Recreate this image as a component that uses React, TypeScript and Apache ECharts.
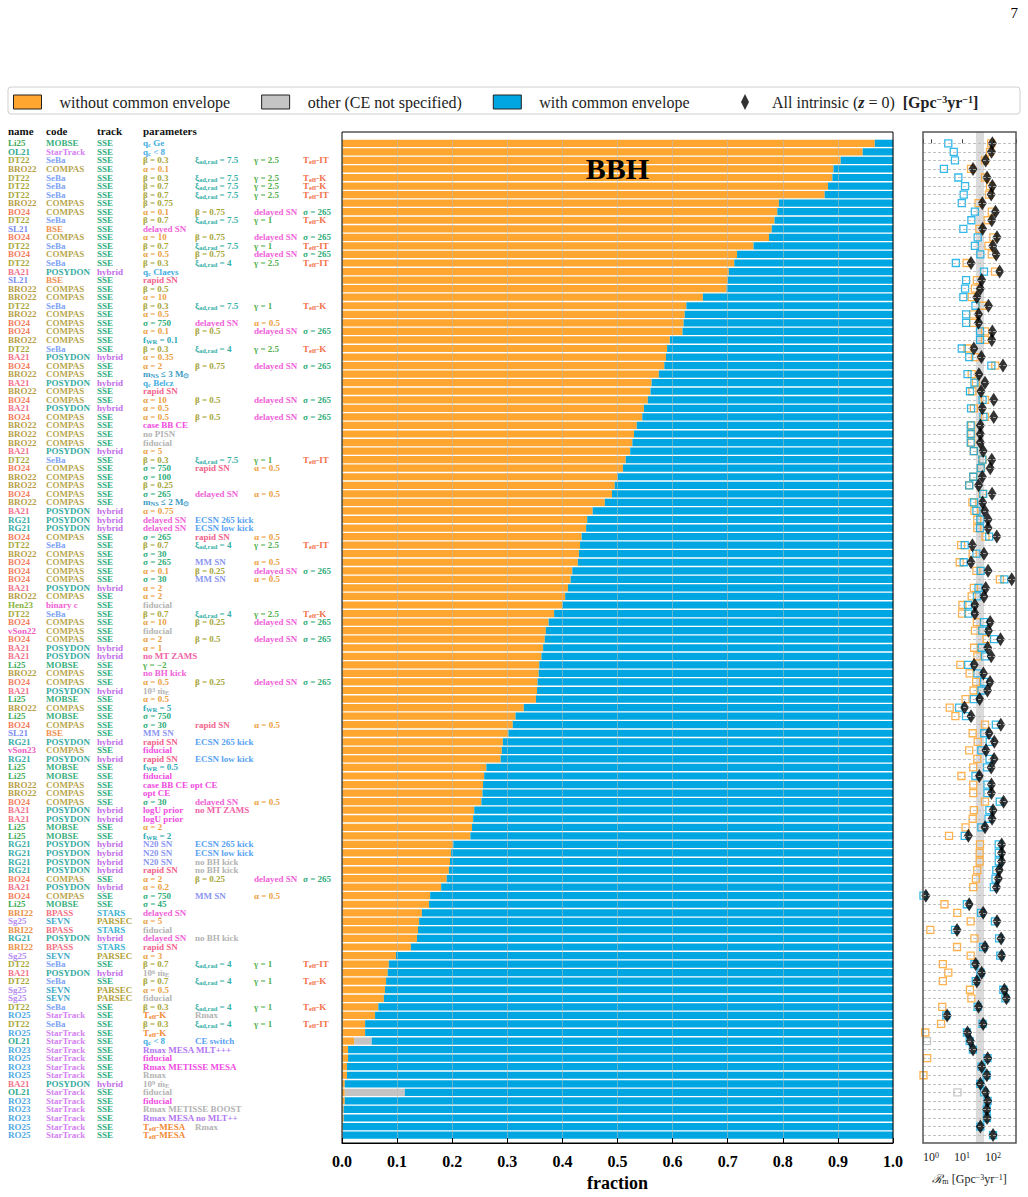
import React, { useEffect, useRef } from 'react';
import * as echarts from 'echarts';

// ---------------- data ----------------
const names = [
  'Li25','OL21','DT22','BRO22','DT22','DT22','DT22','BRO22','BO24','DT22',
  'SL21','BO24','DT22','BO24','DT22','BA21','SL21','BRO22','BRO22','DT22',
  'BRO22','BO24','BO24','BRO22','DT22','BA21','BO24','BRO22','BA21','BRO22',
  'BO24','BA21','BO24','BRO22','BRO22','BRO22','BA21','DT22','BO24','BRO22',
  'BRO22','BO24','BRO22','BA21','RG21','RG21','BO24','DT22','BRO22','BO24',
  'BO24','BO24','BA21','BRO22','Hen23','DT22','BO24','vSon22','BO24','BA21',
  'BA21','Li25','BRO22','BO24','BA21','Li25','BRO22','Li25','BO24','SL21',
  'RG21','vSon23','RG21','Li25','Li25','BRO22','BRO22','BO24','BA21','BA21',
  'Li25','Li25','RG21','RG21','RG21','RG21','BO24','BA21','BO24','Li25',
  'BRI22','Sg25','BRI22','RG21','BRI22','Sg25','DT22','BA21','DT22','Sg25',
  'Sg25','DT22','RO25','DT22','RO25','OL21','RO23','RO25','RO23','RO25',
  'BA21','OL21','RO23','RO23','RO23','RO25','RO25'
];

const studyCode: Record<string, string> = {
  Li25: 'MOBSE', OL21: 'StarTrack', DT22: 'SeBa', BRO22: 'COMPAS', BO24: 'COMPAS',
  SL21: 'BSE', BA21: 'POSYDON', RG21: 'POSYDON', Hen23: 'binary c', vSon22: 'COMPAS',
  vSon23: 'COMPAS', BRI22: 'BPASS', Sg25: 'SEVN', RO23: 'StarTrack', RO25: 'StarTrack'
};
const studyTrack: Record<string, string> = {
  Li25: 'SSE', OL21: 'SSE', DT22: 'SSE', BRO22: 'SSE', BO24: 'SSE', SL21: 'SSE',
  BA21: 'hybrid', RG21: 'hybrid', Hen23: 'SSE', vSon22: 'SSE', vSon23: 'SSE',
  BRI22: 'STARS', Sg25: 'PARSEC', RO23: 'SSE', RO25: 'SSE'
};

// parameter slots separated by "|", each "colorKey:text"
const params = [
  'q:q_{c} Ge',
  'q:q_{c} < 8',
  'b:β = 0.3|x:ξ_{ad,rad} = 7.5|g:γ = 2.5|t:T_{eff}-IT',
  'a:α = 0.1',
  'b:β = 0.3|x:ξ_{ad,rad} = 7.5|g:γ = 2.5|t:T_{eff}-K',
  'b:β = 0.7|x:ξ_{ad,rad} = 7.5|g:γ = 2.5|t:T_{eff}-K',
  'b:β = 0.7|x:ξ_{ad,rad} = 7.5|g:γ = 2.5|t:T_{eff}-IT',
  'b:β = 0.75',
  'a:α = 0.1|b:β = 0.75|d:delayed SN|s:σ = 265',
  'b:β = 0.7|x:ξ_{ad,rad} = 7.5|g:γ = 1|t:T_{eff}-K',
  'd:delayed SN',
  'a:α = 10|b:β = 0.75|d:delayed SN|s:σ = 265',
  'b:β = 0.7|x:ξ_{ad,rad} = 7.5|g:γ = 1|t:T_{eff}-IT',
  'a:α = 0.5|b:β = 0.75|d:delayed SN|s:σ = 265',
  'b:β = 0.3|x:ξ_{ad,rad} = 4|g:γ = 2.5|t:T_{eff}-IT',
  'q:q_{c} Claeys',
  'r:rapid SN',
  'b:β = 0.5',
  'a:α = 10',
  'b:β = 0.3|x:ξ_{ad,rad} = 7.5|g:γ = 1|t:T_{eff}-K',
  'a:α = 0.5',
  's:σ = 750|d:delayed SN|a:α = 0.5',
  'a:α = 0.1|b:β = 0.5|d:delayed SN|s:σ = 265',
  'f:f_{WR} = 0.1',
  'b:β = 0.3|x:ξ_{ad,rad} = 4|g:γ = 2.5|t:T_{eff}-K',
  'a:α = 0.35',
  'a:α = 2|b:β = 0.75|d:delayed SN|s:σ = 265',
  'n:m_{NS} ≤ 3 M_{⊙}',
  'q:q_{c} Belcz',
  'r:rapid SN',
  'a:α = 10|b:β = 0.5|d:delayed SN|s:σ = 265',
  'a:α = 0.5',
  'a:α = 0.5|b:β = 0.5|d:delayed SN|s:σ = 265',
  'c:case BB CE',
  'z:no PISN',
  'z:fiducial',
  'a:α = 5',
  'b:β = 0.3|x:ξ_{ad,rad} = 7.5|g:γ = 1|t:T_{eff}-IT',
  's:σ = 750|r:rapid SN|a:α = 0.5',
  's:σ = 100',
  'b:β = 0.25',
  's:σ = 265|d:delayed SN|a:α = 0.5',
  'n:m_{NS} ≤ 2 M_{⊙}',
  'a:α = 0.75',
  'd:delayed SN|e:ECSN 265 kick',
  'd:delayed SN|e:ECSN low kick',
  's:σ = 265|r:rapid SN|a:α = 0.5',
  'b:β = 0.7|x:ξ_{ad,rad} = 4|g:γ = 2.5|t:T_{eff}-IT',
  's:σ = 30',
  's:σ = 265|m:MM SN|a:α = 0.5',
  'a:α = 0.1|b:β = 0.25|d:delayed SN|s:σ = 265',
  's:σ = 30|m:MM SN|a:α = 0.5',
  'a:α = 2',
  'a:α = 2',
  'z:fiducial',
  'b:β = 0.7|x:ξ_{ad,rad} = 4|g:γ = 2.5|t:T_{eff}-K',
  'a:α = 10|b:β = 0.25|d:delayed SN|s:σ = 265',
  'z:fiducial',
  'a:α = 2|b:β = 0.5|d:delayed SN|s:σ = 265',
  'a:α = 1',
  'p:no MT ZAMS',
  'g:γ = −2',
  'd:no BH kick',
  'a:α = 0.5|b:β = 0.25|d:delayed SN|s:σ = 265',
  'z:10^{3} ṁ_{E}',
  'a:α = 0.5',
  'f:f_{WR} = 5',
  's:σ = 750',
  's:σ = 30|r:rapid SN|a:α = 0.5',
  'm:MM SN',
  'r:rapid SN|e:ECSN 265 kick',
  'c:fiducial',
  'r:rapid SN|e:ECSN low kick',
  'f:f_{WR} = 0.5',
  'c:fiducial',
  'c:case BB CE opt CE',
  'c:opt CE',
  's:σ = 30|d:delayed SN|a:α = 0.5',
  'c:logU prior|p:no MT ZAMS',
  'c:logU prior',
  'a:α = 2',
  'f:f_{WR} = 2',
  'm:N20 SN|e:ECSN 265 kick',
  'm:N20 SN|e:ECSN low kick',
  'm:N20 SN|z:no BH kick',
  'r:rapid SN|z:no BH kick',
  'a:α = 2|b:β = 0.25|d:delayed SN|s:σ = 265',
  'a:α = 0.2',
  's:σ = 750|m:MM SN|a:α = 0.5',
  's:σ = 45',
  'd:delayed SN',
  'a:α = 5',
  'z:fiducial',
  'd:delayed SN|z:no BH kick',
  'r:rapid SN',
  'a:α = 3',
  'b:β = 0.7|x:ξ_{ad,rad} = 4|g:γ = 1|t:T_{eff}-IT',
  'z:10^{6} ṁ_{E}',
  'b:β = 0.7|x:ξ_{ad,rad} = 4|g:γ = 1|t:T_{eff}-K',
  'a:α = 0.5',
  'z:fiducial',
  'b:β = 0.3|x:ξ_{ad,rad} = 4|g:γ = 1|t:T_{eff}-K',
  'o:T_{eff}-K|z:Rmax',
  'b:β = 0.3|x:ξ_{ad,rad} = 4|g:γ = 1|t:T_{eff}-IT',
  'o:T_{eff}-K',
  'q:q_{c} < 8|e:CE switch',
  'v:Rmax MESA MLT+++',
  'c:fiducial',
  'c:Rmax METISSE MESA',
  'z:Rmax',
  'z:10^{9} ṁ_{E}',
  'z:fiducial',
  'c:fiducial',
  'z:Rmax METISSE BOOST',
  'v:Rmax MESA no MLT++',
  'o:T_{eff}-MESA|z:Rmax',
  'o:T_{eff}-MESA'
];

// fraction of merging BBHs without common envelope
const fracNoCE = [
  0.967, 0.945, 0.905, 0.892, 0.890, 0.882, 0.876, 0.793, 0.790, 0.785,
  0.780, 0.775, 0.747, 0.717, 0.712, 0.702, 0.700, 0.698, 0.655, 0.625,
  0.622, 0.620, 0.618, 0.595, 0.590, 0.588, 0.585, 0.575, 0.562, 0.560,
  0.555, 0.548, 0.545, 0.535, 0.530, 0.527, 0.523, 0.515, 0.510, 0.500,
  0.495, 0.490, 0.477, 0.455, 0.445, 0.443, 0.435, 0.432, 0.430, 0.428,
  0.418, 0.415, 0.410, 0.405, 0.400, 0.385, 0.375, 0.370, 0.368, 0.365,
  0.362, 0.358, 0.357, 0.355, 0.354, 0.352, 0.330, 0.315, 0.310, 0.302,
  0.292, 0.290, 0.288, 0.262, 0.258, 0.256, 0.255, 0.253, 0.240, 0.238,
  0.236, 0.233, 0.202, 0.198, 0.196, 0.194, 0.190, 0.180, 0.160, 0.158,
  0.145, 0.140, 0.138, 0.136, 0.125, 0.098, 0.085, 0.083, 0.080, 0.078,
  0.076, 0.066, 0.060, 0.042, 0.042, 0.022, 0.011, 0.011, 0.009, 0.009,
  0.005, 0.005, 0.005, 0.003, 0.003, 0.001, 0.001
];
// rows with a share of "other (CE not specified)"
const otherRows = [105, 111];
const otherFrac = [0.032, 0.109];

// merger rates [Gpc^-3 yr^-1]
const rateNoCE = [
  87, 80, 55, 19.5, 55, 80, 74, 34, 91, 67,
  36, 102, 71, 91, 14, 116, 30, 26, 20.5, 46,
  23, 23, 55, 55, 15, 26, 118, 20.5, 28, 21.5,
  55, 24, 55, 20, 20, 20, 24, 46, 41, 23,
  17, 46, 21.5, 25, 31, 31, 57, 9.3, 22, 8.4,
  29, 166, 24, 20.5, 10.3, 10, 30, 26, 62, 24.5,
  31, 8.8, 17.5, 28.5, 23.5, 13, 4.0, 6.1, 55, 22,
  32, 17, 31, 23, 9.5, 23, 23, 55, 24, 22,
  13, 3.8, 38, 37, 37, 31, 28, 23, 0.11, 2.7,
  7, 19, 0.95, 25, 6.9, 19, 2.4, 3.6, 2.4, 18,
  20, 2.3, 0.2, 2.1, 0.65, 0.4, 0.25, 0.75, 0.39, 0.57,
  0.2, 0.29, 0.33, 0.2, 0.2, 0.04, 0.1
];
const rateCE = [
  3.6, 5.4, 5.9, 2.6, 7.6, 12.5, 11.3, 9.8, 26, 20,
  11, 32, 26, 39, 6.3, 51, 13.5, 12.5, 11, 27,
  13.5, 13.5, 38, 38, 9.8, 17, 88, 15, 25, 18,
  46, 19.5, 49, 19, 19, 19, 24, 45, 40, 23,
  17, 48, 24.5, 29, 39, 38, 75, 12.2, 29, 11.3,
  40, 232, 34, 30, 15.5, 16, 51, 45, 108, 43,
  55, 15.7, 31.5, 51.5, 42.5, 24, 8, 13.4, 123, 52,
  78, 42, 77, 64, 27, 66, 66, 164, 76, 71,
  42, 12.2, 152, 153, 153, 127, 120, 106, 0.57, 14.3,
  41, 115, 5.95, 157, 48, 171, 25, 39.4, 27.6, 214,
  250, 31.7, 3.1, 45.9, 14.35, 17.6, 22.35, 66, 42.6, 62,
  38.8, 51.3, 66.6, 62.8, 63.8, 39, 99.9
];
const rateAll = [
  95, 89, 58, 22.6, 64, 95, 87, 45, 120, 91,
  46, 134, 98, 126, 19.5, 163, 43, 39, 30, 71,
  34, 34, 95, 91, 24, 42, 209, 35, 55, 41,
  105, 45, 105, 39, 39, 39, 48, 91, 81, 45,
  34, 93, 46, 54, 69, 69, 132, 21.5, 51, 19.5,
  69, 400, 58, 51, 26, 26, 81, 71, 174, 67,
  87, 24.5, 49, 80, 66, 37, 12, 19.5, 178, 74,
  110, 59, 108, 87, 36, 89, 89, 219, 100, 93,
  55, 16, 190, 190, 190, 158, 148, 129, 0.68, 17,
  48, 134, 6.9, 182, 55, 190, 27.5, 43, 30, 232,
  270, 34, 3.3, 48, 15, 18.6, 22.6, 67, 43, 63,
  39, 58, 67, 63, 64, 39, 100
];
const rateOther = [0.74, 7.1];
const obsBand = [28, 51];

const seriesNames = ['without common envelope', 'other (CE not specified)', 'with common envelope', 'All intrinsic'];
const headerLabels = ['name', 'code', 'track', 'parameters'];

// ---------------- styles ----------------
const FONT = 'Liberation Serif';
const ORANGE = '#FFA631';
const GREY = '#C4C4C4';
const BLUE = '#00A6E2';

const nameColor: Record<string, string> = {
  Li25: '#3FAA5A', OL21: '#2FA98C', DT22: '#A8A73B', BRO22: '#B8A046', BO24: '#F27D5C',
  SL21: '#7C8DF2', BA21: '#F2718B', RG21: '#38ACA6', Hen23: '#88B33C', vSon22: '#F060C4',
  vSon23: '#F060C4', BRI22: '#E9924B', Sg25: '#B48BF2', RO23: '#4EA9E3', RO25: '#4EA9E3'
};
const codeColor: Record<string, string> = {
  MOBSE: '#3AAF7E', StarTrack: '#D47FF2', SeBa: '#7DA3F5', COMPAS: '#B8A650', BSE: '#EE9150',
  POSYDON: '#36ABA0', 'binary c': '#F25FD5', BPASS: '#F27186', SEVN: '#3FA9C9'
};
const trackColor: Record<string, string> = {
  SSE: '#2FAE83', hybrid: '#C26DE8', STARS: '#3DB2D2', PARSEC: '#B3A138'
};
const paramColor: Record<string, string> = {
  q: '#45AEE2', b: '#A7A63A', a: '#EBA042', x: '#35AFA8', g: '#52B04E', t: '#F2714A',
  d: '#F062D8', r: '#F2648C', s: '#2FAD78', m: '#8A96F2', z: '#B3B3B3', f: '#2FA9B5',
  n: '#3A9BC4', c: '#F04BDF', e: '#58A2F2', p: '#F062A6', v: '#B276F2', o: '#F28A34'
};

const colorList: string[] = [];
function ck(c: string): string {
  let j = colorList.indexOf(c);
  if (j < 0) { colorList.push(c); j = colorList.length - 1; }
  return 'c' + j;
}
function toRich(text: string, key: string): string {
  let out = '';
  let buf = '';
  let i = 0;
  while (i < text.length) {
    const ch = text[i];
    if ((ch === '_' || ch === '^') && text[i + 1] === '{') {
      const end = text.indexOf('}', i);
      if (buf) { out += `{${key}|${buf}}`; buf = ''; }
      out += `{${key}${ch === '_' ? 's' : 'p'}|${text.slice(i + 2, end)}}`;
      i = end + 1;
    } else { buf += ch; i++; }
  }
  if (buf) out += `{${key}|${buf}}`;
  return out;
}

const nameLabels = names.map((n) => toRich(n, ck(nameColor[n])));
const codeLabels = names.map((n) => toRich(studyCode[n], ck(codeColor[studyCode[n]])));
const trackLabels = names.map((n) => toRich(studyTrack[n], ck(trackColor[studyTrack[n]])));
const paramLabels: string[][] = [0, 1, 2, 3].map((slot) =>
  params.map((p) => {
    const piece = p.split('|')[slot];
    if (!piece) return '';
    const k = piece.slice(0, 1);
    return toRich(piece.slice(2), ck(paramColor[k]));
  })
);

const FS = 9;
const rich: Record<string, any> = {};
colorList.forEach((c, j) => {
  rich['c' + j] = { color: c, fontFamily: FONT, fontWeight: 'bold', fontSize: FS, lineHeight: 10 };
  rich['c' + j + 's'] = { color: c, fontFamily: FONT, fontWeight: 'bold', fontSize: 6.5, lineHeight: 6, verticalAlign: 'bottom' };
  rich['c' + j + 'p'] = { color: c, fontFamily: FONT, fontWeight: 'bold', fontSize: 6.5, lineHeight: 6, verticalAlign: 'top' };
});

// layout
const GRID_LEFT = 342;
const GRID_RIGHT_X = 893;
const PANEL_TOP = 132;
const PANEL_BOTTOM = 1143;
const ROW_H = 8.55;
const FIRST_ROW_Y = 143.3;
const R_LEFT = 923;
const R_RIGHT = 1016;
const colX = [8, 46, 97, 143, 195, 254, 303];

export default function App() {
  const ref = useRef<HTMLDivElement>(null);
  useEffect(() => {
    if (!ref.current) return;
    const chart = echarts.init(ref.current, undefined, { renderer: 'svg' });
    const N = names.length;
    const cats = names.map((_, i) => String(i));
    const other = names.map(() => 0);
    otherRows.forEach((r, k) => { other[r] = otherFrac[k]; });
    const ce = fracNoCE.map((f, i) => +(1 - f - other[i]).toFixed(4));

    const barTop = FIRST_ROW_Y - ROW_H / 2;
    const barHeight = ROW_H * N;
    const yMin = -(FIRST_ROW_Y - PANEL_TOP) / ROW_H;
    const yMax = yMin + (PANEL_BOTTOM - PANEL_TOP) / ROW_H;

    const labelCols = [nameLabels, codeLabels, trackLabels, ...paramLabels];
    const labelAxes = labelCols.map((labels, k) => ({
      type: 'category',
      gridIndex: 0,
      data: cats,
      inverse: true,
      position: 'left',
      axisLine: { show: false },
      axisTick: { show: false },
      splitLine: { show: false },
      axisLabel: {
        show: true,
        interval: 0,
        align: 'left',
        margin: GRID_LEFT - colX[k],
        formatter: (_v: string, i: number) => labels[i] || '',
        rich
      }
    }));

    const supRich = {
      b: { fontFamily: FONT, fontSize: 12, color: '#222' },
      s: { fontFamily: FONT, fontSize: 8, color: '#222', verticalAlign: 'top', lineHeight: 8 }
    };
    const legendText = { fontFamily: FONT, fontSize: 16, color: '#222' };

    const option: any = {
      animation: false,
      backgroundColor: '#fff',
      grid: [
        { left: GRID_LEFT, width: GRID_RIGHT_X - GRID_LEFT, top: barTop, height: barHeight },
        { left: R_LEFT, width: R_RIGHT - R_LEFT, top: PANEL_TOP, height: PANEL_BOTTOM - PANEL_TOP }
      ],
      legend: [
        {
          left: 8,
          top: 89,
          itemWidth: 28,
          itemHeight: 14,
          itemGap: 31,
          selectedMode: false,
          textStyle: { ...legendText, padding: [0, 0, 0, 13] },
          data: [
            { name: seriesNames[0], icon: 'rect', itemStyle: { color: ORANGE, borderColor: '#222', borderWidth: 1 } },
            { name: seriesNames[1], icon: 'rect', itemStyle: { color: GREY, borderColor: '#222', borderWidth: 1 } },
            { name: seriesNames[2], icon: 'rect', itemStyle: { color: BLUE, borderColor: '#222', borderWidth: 1 } }
          ]
        },
        {
          left: 736,
          top: 89,
          itemWidth: 10,
          itemHeight: 16,
          selectedMode: false,
          textStyle: {
            ...legendText,
            padding: [0, 0, 0, 17],
            rich: {
              t: { ...legendText },
              z: { ...legendText, fontWeight: 'bold', fontStyle: 'italic' },
              u: { ...legendText, fontWeight: 'bold' },
              us: { fontFamily: FONT, fontSize: 10, color: '#222', fontWeight: 'bold', verticalAlign: 'top', lineHeight: 10 }
            }
          },
          data: [
            { name: seriesNames[3], icon: 'path://M5,0L10,10L5,20L0,10Z', itemStyle: { color: '#000', borderWidth: 0 } }
          ],
          formatter: () => '{t|All intrinsic (}{z|z}{t| = 0)  }{u|[Gpc}{us|−3}{u|yr}{us|−1}{u|]}'
        }
      ],
      xAxis: [
        {
          type: 'value', gridIndex: 0, min: 0, max: 1, interval: 0.1, offset: PANEL_BOTTOM - (barTop + barHeight), z: 5,
          axisLine: { show: true, lineStyle: { color: '#000', width: 1 } },
          axisTick: { show: true, inside: true, length: 5, lineStyle: { color: '#000' } },
          axisLabel: { formatter: (v: number) => v.toFixed(1), fontFamily: FONT, fontWeight: 'bold', fontSize: 16, color: '#000', margin: 10 },
          splitLine: { show: true, lineStyle: { color: 'rgba(185,185,185,0.55)', width: 1 } },
          name: 'fraction', nameLocation: 'middle', nameGap: 31,
          nameTextStyle: { fontFamily: FONT, fontWeight: 'bold', fontSize: 18, color: '#000' }
        },
        {
          type: 'log', logBase: 10, gridIndex: 1, min: 0.55, max: 550,
          axisLine: { show: false },
          axisTick: { show: true, inside: true, length: 4, lineStyle: { color: '#444' } },
          axisLabel: {
            margin: 8,
            formatter: (v: number) => {
              const e = Math.log10(v);
              const r = Math.round(e);
              if (Math.abs(e - r) > 1e-6 || r < 0 || r > 2) return '';
              return `{b|10}{s|${r}}`;
            },
            rich: supRich
          },
          splitLine: { show: false },
          name: '{i|ℛ}{is|m} {b|[Gpc}{s|−3}{b|yr}{s|−1}{b|]}',
          nameLocation: 'middle', nameGap: 30,
          nameTextStyle: {
            rich: {
              i: { fontFamily: FONT, fontSize: 12, color: '#222', fontStyle: 'italic' },
              is: { fontFamily: FONT, fontSize: 8, color: '#222', verticalAlign: 'bottom', lineHeight: 8 },
              b: { fontFamily: FONT, fontSize: 12, color: '#222' },
              s: { fontFamily: FONT, fontSize: 8, color: '#222', verticalAlign: 'top', lineHeight: 8 }
            }
          }
        }
      ],
      yAxis: [
        {
          type: 'category', gridIndex: 0, data: cats, inverse: true,
          axisLine: { show: false }, axisTick: { show: false }, axisLabel: { show: false }, splitLine: { show: false }
        },
        ...labelAxes,
        { type: 'value', gridIndex: 1, min: yMin, max: yMax, inverse: true, show: false }
      ],
      series: [
        {
          name: seriesNames[0], type: 'bar', stack: 'frac', xAxisIndex: 0, yAxisIndex: 0,
          barCategoryGap: '16%', itemStyle: { color: ORANGE }, data: fracNoCE
        },
        {
          name: seriesNames[1], type: 'bar', stack: 'frac', xAxisIndex: 0, yAxisIndex: 0,
          barCategoryGap: '16%', itemStyle: { color: GREY }, data: other
        },
        {
          name: seriesNames[2], type: 'bar', stack: 'frac', xAxisIndex: 0, yAxisIndex: 0,
          barCategoryGap: '16%', itemStyle: { color: BLUE }, data: ce
        },
        {
          name: 'rate without CE', type: 'scatter', xAxisIndex: 1, yAxisIndex: 8,
          symbol: 'rect', symbolSize: 7,
          itemStyle: { color: 'rgba(255,255,255,0)', borderColor: ORANGE, borderWidth: 1.3, opacity: 0.85 },
          data: rateNoCE.map((v, i) => [v, i]),
          markArea: {
            silent: true,
            itemStyle: { color: 'rgba(205,205,205,0.75)' },
            data: [[{ xAxis: obsBand[0] }, { xAxis: obsBand[1] }]]
          },
          markLine: {
            silent: true,
            symbol: ['none', 'none'],
            label: { show: false },
            lineStyle: { color: '#b3b3b3', type: [3, 2], width: 0.8 },
            data: cats.map((_, i) => ({ yAxis: i }))
          }
        },
        {
          name: 'rate other', type: 'scatter', xAxisIndex: 1, yAxisIndex: 8,
          symbol: 'rect', symbolSize: 7,
          itemStyle: { color: 'rgba(255,255,255,0)', borderColor: '#BBBBBB', borderWidth: 1.3 },
          data: otherRows.map((r, k) => [rateOther[k], r])
        },
        {
          name: 'rate with CE', type: 'scatter', xAxisIndex: 1, yAxisIndex: 8,
          symbol: 'rect', symbolSize: 7,
          itemStyle: { color: 'rgba(255,255,255,0)', borderColor: BLUE, borderWidth: 1.3 },
          data: rateCE.map((v, i) => [v, i])
        },
        {
          name: seriesNames[3], type: 'scatter', xAxisIndex: 1, yAxisIndex: 8,
          symbol: 'diamond', symbolSize: [9, 14],
          itemStyle: { color: '#000' },
          data: rateAll.map((v, i) => [v, i])
        }
      ],
      graphic: [
        { type: 'rect', z: -10, shape: { x: 8, y: 87, width: 1012, height: 27, r: 3 }, style: { fill: '#fff', stroke: '#cfcfcf', lineWidth: 1 } },
        ...headerLabels.map((h, k) => ({
          type: 'text', x: colX[k], y: 131,
          style: { text: h, font: `bold 11px "${FONT}"`, fill: '#111', align: 'left', verticalAlign: 'middle' }
        })),
        {
          type: 'text', z: 100, x: (GRID_LEFT + GRID_RIGHT_X) / 2, y: 168,
          style: { text: 'BBH', font: `bold 30px "${FONT}"`, fill: '#000', align: 'center', verticalAlign: 'middle' }
        },
        {
          type: 'text', x: 1018, y: 13,
          style: { text: '7', font: `15px "${FONT}"`, fill: '#000', align: 'right', verticalAlign: 'middle' }
        },
        {
          type: 'rect', z: 100,
          shape: { x: GRID_LEFT, y: PANEL_TOP, width: GRID_RIGHT_X - GRID_LEFT, height: PANEL_BOTTOM - PANEL_TOP },
          style: { fill: 'none', stroke: '#000', lineWidth: 1 }
        },
        {
          type: 'rect', z: 100,
          shape: { x: R_LEFT, y: PANEL_TOP, width: R_RIGHT - R_LEFT, height: PANEL_BOTTOM - PANEL_TOP },
          style: { fill: 'none', stroke: '#555', lineWidth: 1.5 }
        }
      ]
    };
    chart.setOption(option);
    return () => chart.dispose();
  }, []);
  return (
    <div
      ref={ref}
      style={{ position: 'absolute', left: 0, top: 0, width: 1028, height: 1197, background: '#fff' }}
    />
  );
}
